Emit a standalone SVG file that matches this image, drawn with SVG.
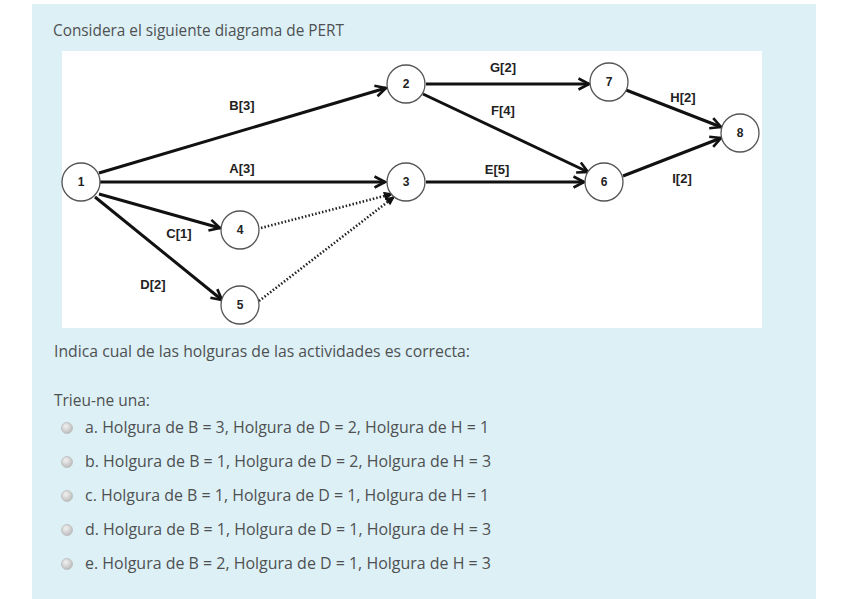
<svg xmlns="http://www.w3.org/2000/svg" width="848" height="599" viewBox="0 0 848 599">
<defs>
<marker id="arr" viewBox="0 0 14 14" refX="12" refY="7" markerWidth="14" markerHeight="14" markerUnits="userSpaceOnUse" orient="auto">
<path d="M1.5,1.5 L12,7 L1.5,12.5" fill="none" stroke="#111" stroke-width="2.6" stroke-linejoin="miter"/>
</marker>
<marker id="arrd" viewBox="0 0 12 12" refX="10" refY="6" markerWidth="10" markerHeight="10" markerUnits="userSpaceOnUse" orient="auto">
<path d="M1,2 L10,6 L1,10 Z" fill="#111" stroke="#111" stroke-width="1.5"/>
</marker>
<radialGradient id="rad" cx="0.4" cy="0.35" r="0.7">
<stop offset="0" stop-color="#f2f2f2"/>
<stop offset="1" stop-color="#b8b8b8"/>
</radialGradient>
</defs>
<style>
.body{font-family:"Open Sans","Noto Sans","Liberation Sans",sans-serif;fill:#4f5052;font-size:15.5px;}
.node circle{fill:#fff;stroke:#555;stroke-width:1.3;}
.node text{font-family:"Liberation Sans","DejaVu Sans",sans-serif;font-weight:bold;font-size:12px;fill:#222;text-anchor:middle;}
.edge{stroke:#111;stroke-width:3;fill:none;marker-end:url(#arr);}
.dot{stroke:#222;stroke-width:2.6;fill:none;stroke-dasharray:1.5 2;marker-end:url(#arrd);}
.lbl{font-family:"Liberation Sans","DejaVu Sans",sans-serif;font-weight:bold;font-size:13px;fill:#222;text-anchor:middle;}
.radio{fill:url(#rad);stroke:#bdbdbd;stroke-width:0.8;}
</style>
<rect x="0" y="0" width="848" height="599" fill="#fff"/>
<rect x="32" y="4" width="784" height="595" fill="#dcf0f6"/>
<text class="body" x="53" y="36" textLength="291" lengthAdjust="spacingAndGlyphs">Considera el siguiente diagrama de PERT</text>
<rect x="62" y="51" width="700" height="277" fill="#fff"/>

<g id="connectors">
<line class="edge" x1="99" y1="173" x2="386" y2="88"/>
<line class="edge" x1="100" y1="182" x2="385" y2="182"/>
<line class="edge" x1="99" y1="194" x2="220" y2="228"/>
<line class="edge" x1="95" y1="197" x2="222" y2="300"/>
<line class="dot" x1="261" y1="228" x2="392" y2="194"/>
<line class="dot" x1="259" y1="301" x2="394" y2="197"/>
<line class="edge" x1="426" y1="84" x2="589" y2="84"/>
<line class="edge" x1="423" y1="94" x2="588" y2="172"/>
<line class="edge" x1="426" y1="182" x2="584" y2="182"/>
<line class="edge" x1="626" y1="90" x2="721" y2="127"/>
<line class="edge" x1="623" y1="176" x2="721" y2="138"/>
<text class="lbl" x="242" y="110">B[3]</text>
<text class="lbl" x="242" y="173">A[3]</text>
<text class="lbl" x="179" y="238">C[1]</text>
<text class="lbl" x="153" y="289">D[2]</text>
<text class="lbl" x="503" y="72">G[2]</text>
<text class="lbl" x="503" y="115">F[4]</text>
<text class="lbl" x="497" y="174">E[5]</text>
<text class="lbl" x="683" y="102">H[2]</text>
<text class="lbl" x="682" y="183">I[2]</text>
</g>

<g id="n1" class="node"><circle cx="81" cy="182" r="19"/><text x="81" y="186">1</text></g>
<g id="n2" class="node"><circle cx="406" cy="84" r="19"/><text x="406" y="88">2</text></g>
<g id="n3" class="node"><circle cx="406" cy="182" r="19"/><text x="406" y="186">3</text></g>
<g id="n4" class="node"><circle cx="240" cy="230" r="19"/><text x="240" y="234">4</text></g>
<g id="n5" class="node"><circle cx="240" cy="305" r="19"/><text x="240" y="309">5</text></g>
<g id="n6" class="node"><circle cx="604" cy="182" r="19"/><text x="604" y="186">6</text></g>
<g id="n7" class="node"><circle cx="609" cy="82" r="19"/><text x="609" y="86">7</text></g>
<g id="n8" class="node"><circle cx="740" cy="133" r="19"/><text x="740" y="137">8</text></g>

<text class="body" x="54" y="357" textLength="416" lengthAdjust="spacingAndGlyphs">Indica cual de las holguras de las actividades es correcta:</text>
<text class="body" x="54" y="406">Trieu-ne una:</text>
<g id="options" class="body">
<circle class="radio" cx="67" cy="428" r="5.5"/>
<text x="85" y="433" textLength="404" lengthAdjust="spacingAndGlyphs">a. Holgura de B = 3, Holgura de D = 2, Holgura de H = 1</text>
<circle class="radio" cx="67" cy="462" r="5.5"/>
<text x="85" y="467" textLength="406" lengthAdjust="spacingAndGlyphs">b. Holgura de B = 1, Holgura de D = 2, Holgura de H = 3</text>
<circle class="radio" cx="67" cy="496" r="5.5"/>
<text x="85" y="501" textLength="404" lengthAdjust="spacingAndGlyphs">c. Holgura de B = 1, Holgura de D = 1, Holgura de H = 1</text>
<circle class="radio" cx="67" cy="530" r="5.5"/>
<text x="85" y="535" textLength="406" lengthAdjust="spacingAndGlyphs">d. Holgura de B = 1, Holgura de D = 1, Holgura de H = 3</text>
<circle class="radio" cx="67" cy="564" r="5.5"/>
<text x="85" y="569" textLength="406" lengthAdjust="spacingAndGlyphs">e. Holgura de B = 2, Holgura de D = 1, Holgura de H = 3</text>
</g>
</svg>
